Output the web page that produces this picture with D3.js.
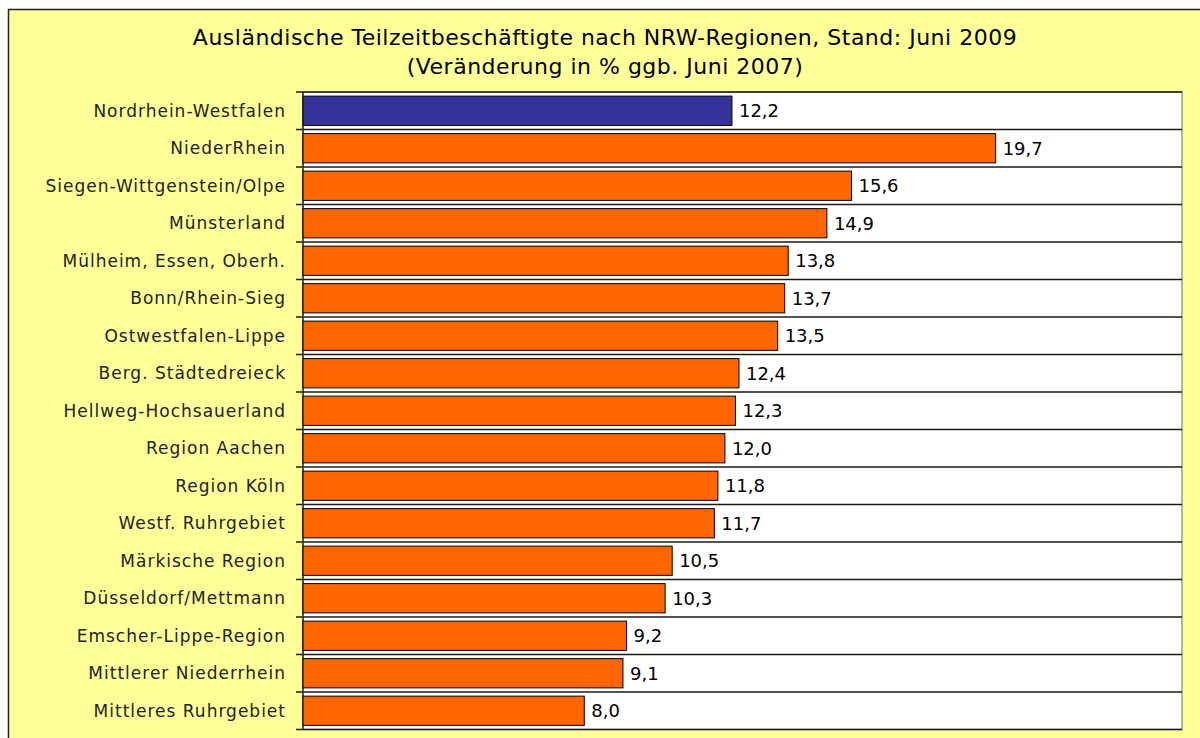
<!DOCTYPE html>
<html>
<head>
<meta charset="utf-8">
<script src="https://cdn.jsdelivr.net/npm/d3@7"></script>
<style>
  body { margin: 0; background: #ffffff; }
  #chart { width: 1200px; height: 738px; }
</style>
</head>
<body>
<div id="chart"></div>
<script>
// data
const regions = [
  "Nordrhein-Westfalen", "NiederRhein", "Siegen-Wittgenstein/Olpe", "Münsterland",
  "Mülheim, Essen, Oberh.", "Bonn/Rhein-Sieg", "Ostwestfalen-Lippe", "Berg. Städtedreieck",
  "Hellweg-Hochsauerland", "Region Aachen", "Region Köln", "Westf. Ruhrgebiet",
  "Märkische Region", "Düsseldorf/Mettmann", "Emscher-Lippe-Region",
  "Mittlerer Niederrhein", "Mittleres Ruhrgebiet"
];
const changes = [12.2, 19.7, 15.6, 14.9, 13.8, 13.7, 13.5, 12.4, 12.3, 12.0, 11.8, 11.7, 10.5, 10.3, 9.2, 9.1, 8.0];
const titleLines = [
  "Ausländische Teilzeitbeschäftigte nach NRW-Regionen, Stand: Juni 2009",
  "(Veränderung in % ggb. Juni 2007)"
];

const width = 1200, height = 738;
const font = "'DejaVu Sans', sans-serif";

const svg = d3.select("#chart").append("svg")
    .attr("width", width)
    .attr("height", height)
    .style("font-family", font);

// yellow chart frame (runs past the right and bottom edge)
svg.append("rect")
    .attr("x", 8.5).attr("y", 9.5)
    .attr("width", 1300).attr("height", 800)
    .attr("fill", "#FFFF99")
    .attr("stroke", "#222").attr("stroke-width", 1.5);

// title
svg.append("g").selectAll("text")
    .data(titleLines)
    .join("text")
    .attr("x", 605)
    .attr("y", (d, i) => 45 + i * 29)
    .attr("text-anchor", "middle")
    .attr("font-size", 22)
    .attr("letter-spacing", 0.5)
    .attr("fill", "#000")
    .text(d => d);

// plot area
const plot = { left: 303, top: 92, right: 1182, bottom: 729.5 };

const x = d3.scaleLinear().domain([0, 25]).range([plot.left, plot.right]);
const y = d3.scaleBand().domain(regions).range([plot.top, plot.bottom]).paddingInner(0.22).paddingOuter(0.11);

svg.append("rect")
    .attr("x", plot.left).attr("y", plot.top)
    .attr("width", plot.right - plot.left).attr("height", plot.bottom - plot.top)
    .attr("fill", "#fff")
    .attr("stroke", "#999").attr("stroke-width", 1.5);

// separators between the categories
const step = (plot.bottom - plot.top) / regions.length;
const bounds = d3.range(regions.length + 1).map(i => plot.top + i * step);
svg.append("g").selectAll("line")
    .data(bounds)
    .join("line")
    .attr("x1", plot.left - 7).attr("x2", plot.right)
    .attr("y1", d => d).attr("y2", d => d)
    .attr("stroke", "#1a1a1a").attr("stroke-width", 1.3);

// axis line
svg.append("line")
    .attr("x1", plot.left).attr("x2", plot.left)
    .attr("y1", plot.top).attr("y2", plot.bottom)
    .attr("stroke", "#333").attr("stroke-width", 1.5);

// bars
svg.append("g").selectAll("rect")
    .data(regions)
    .join("rect")
    .attr("x", x(0))
    .attr("y", d => y(d))
    .attr("width", (d, i) => x(changes[i]) - x(0))
    .attr("height", y.bandwidth())
    .attr("fill", (d, i) => i === 0 ? "#333399" : "#FF6600")
    .attr("stroke", "#000").attr("stroke-width", 1);

// value labels
svg.append("g").selectAll("text")
    .data(regions)
    .join("text")
    .attr("x", (d, i) => x(changes[i]) + 7)
    .attr("y", d => y(d) + y.bandwidth() / 2)
    .attr("dy", "0.36em")
    .attr("font-size", 18)
    .attr("fill", "#000")
    .text((d, i) => changes[i].toFixed(1).replace(".", ","));

// category labels
svg.append("g").selectAll("text")
    .data(regions)
    .join("text")
    .attr("x", 286)
    .attr("y", d => y(d) + y.bandwidth() / 2)
    .attr("dy", "0.36em")
    .attr("text-anchor", "end")
    .attr("font-size", 17)
    .attr("letter-spacing", 1)
    .attr("fill", "#222")
    .text(d => d);
</script>
</body>
</html>
